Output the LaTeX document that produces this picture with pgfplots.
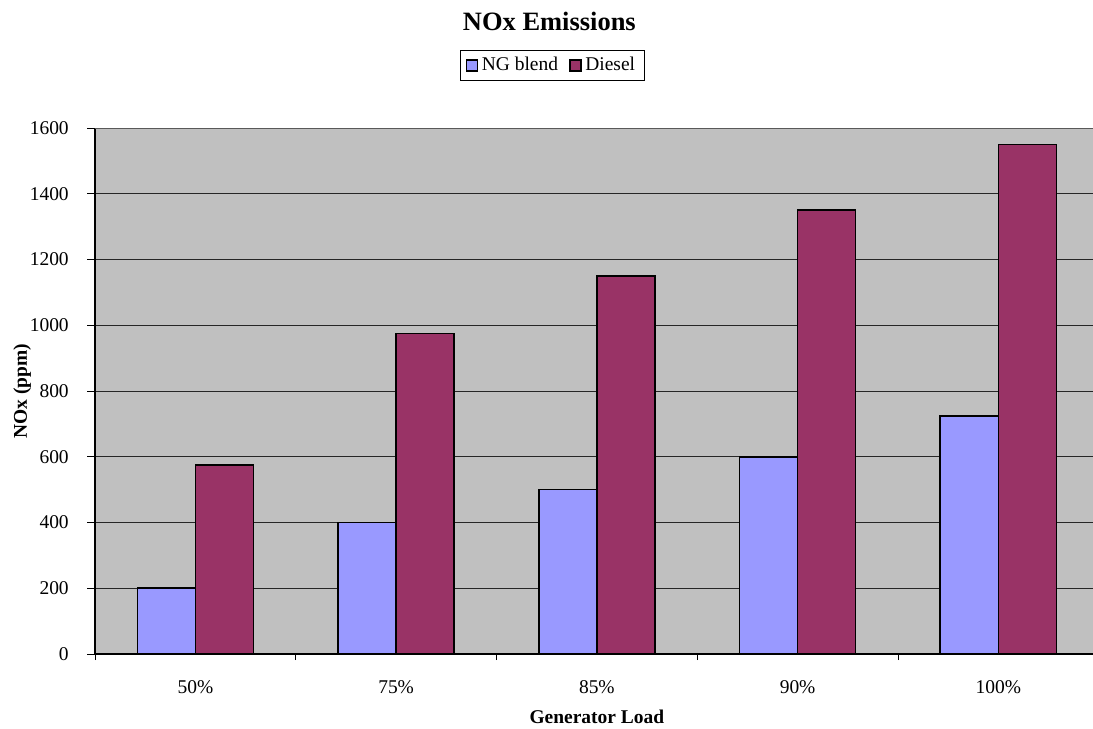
\documentclass[border=0pt]{standalone}
\usepackage{pgfplots}
\pgfplotsset{compat=1.18}
\usepackage{fontspec}
\setmainfont{Liberation Serif}
\definecolor{ngblue}{HTML}{9999FF}
\definecolor{dieselred}{HTML}{993366}
\definecolor{plotgray}{HTML}{C0C0C0}
\begin{document}
\begin{tikzpicture}
\useasboundingbox (-50.26pt,-39.68pt) rectangle (527.97pt,345.97pt);
\begin{axis}[
  scale only axis, width=531pt, height=278.2pt,
  ybar=0pt, bar width=0.289,
  xmin=-0.5, xmax=4.5, ymin=0, ymax=1600,
  axis lines=left,
  axis line style={-, black, line width=0.7pt},
  axis background/.style={fill=plotgray},
  /pgf/number format/assume math mode=true,
  /pgf/number format/1000 sep={},
  xtick={0,1,2,3,4},
  xticklabels={50\%,75\%,85\%,90\%,100\%},
  major x tick style={draw=none},
  minor xtick={-0.5,0.5,1.5,2.5,3.5,4.5},
  minor x tick style={black, line width=0.5pt},
  tick align=outside,
  major tick length=4.2pt, minor tick length=3.2pt,
  ytick={0,200,400,600,800,1000,1200,1400},
  extra y ticks={1600},
  extra y tick style={grid style={gray!70!black, line width=0.5pt}},
  ymajorgrids=true,
  grid style={black!85, line width=0.5pt},
  y tick style={black, line width=0.5pt},
  tick label style={font=\fontsize{10.3}{12}\selectfont},
  yticklabel style={anchor=east, inner sep=0pt, xshift=-9.5pt},
  xticklabel style={anchor=base, inner sep=0pt, yshift=-16.5pt},
  every axis title shift=0pt,
  title={NOx Emissions},
  title style={at={(0.4527,1.1862)}, anchor=base, font=\fontsize{14}{17}\selectfont\bfseries},
  xlabel={Generator Load},
  xlabel style={at={(0.5,-0.133)}, anchor=base, font=\fontsize{10.3}{12}\selectfont\bfseries},
  ylabel={NOx (ppm)},
  ylabel style={at={(-0.0678,0.5)}, anchor=base, font=\fontsize{10.3}{12}\selectfont\bfseries},
  legend columns=2,
  legend style={at={(0.4557,1.119)}, anchor=center, draw=black, line width=0.5pt,
    font=\fontsize{10.3}{12}\selectfont,
    inner xsep=3pt, inner ysep=1.5pt,
    /tikz/every even column/.append style={column sep=4pt}},
  legend image code/.code={\draw[#1, line width=0.6pt] (0pt,-2.9pt) rectangle (5.8pt,2.9pt);},
]
\addplot[fill=ngblue, draw=black, line width=0.9pt] coordinates {(0,200) (1,400) (2,500) (3,600) (4,725)};
\addplot[fill=dieselred, draw=black, line width=0.9pt] coordinates {(0,575) (1,975) (2,1150) (3,1350) (4,1550)};
\legend{NG blend, Diesel}
\end{axis}
\end{tikzpicture}
\end{document}
